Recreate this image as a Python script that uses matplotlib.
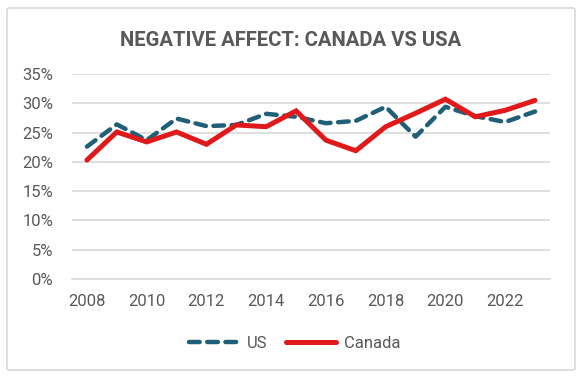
import matplotlib.pyplot as plt
from matplotlib.patches import FancyBboxPatch
from matplotlib.ticker import FuncFormatter

# %% data
years = list(range(2008, 2024))
us = [22.6, 26.4, 23.7, 27.4, 26.1, 26.3, 28.2, 27.7, 26.6, 27.0, 29.4, 24.3, 29.4, 27.8, 26.8, 28.6]
canada = [20.3, 25.1, 23.4, 25.1, 23.0, 26.3, 26.0, 28.7, 23.7, 21.9, 26.0, 28.3, 30.7, 27.7, 28.8, 30.5]
yticks = [0, 5, 10, 15, 20, 25, 30, 35]
xticks = list(range(2008, 2024, 2))

grey = '#595959'
plt.rcParams['font.family'] = ['Roboto', 'DejaVu Sans']

# %% plot
fig = plt.figure(figsize=(5.81, 3.78), dpi=100)
frame = FancyBboxPatch((7 / 581, 8 / 378), 568 / 581, 362 / 378,
                       boxstyle='round,pad=0,rounding_size=0.005',
                       transform=fig.transFigure, fc='white',
                       ec='#d9d9d9', lw=1.2, zorder=-10)
fig.patches.append(frame)

ax = fig.add_axes([72 / 581, 1 - 279 / 378, (550 - 72) / 581, (279 - 74) / 378])
ax.set_facecolor('none')

ax.plot(years, us, color='#1f5f78', lw=3.2, dashes=(2.4, 1.7),
        dash_capstyle='round', solid_capstyle='round', label='US', zorder=3)
ax.plot(years, canada, color='#e01a1a', lw=3.6, solid_capstyle='round',
        solid_joinstyle='miter', label='Canada', zorder=4)

ax.set_xlim(2007.5, 2023.5)
ax.set_ylim(0, 35)
ax.set_yticks(yticks)
ax.set_xticks(xticks)
ax.yaxis.set_major_formatter(FuncFormatter(lambda v, p: f'{v:.0f}%'))
ax.grid(axis='y', color='#d9d9d9', lw=1.2)
ax.set_axisbelow(True)
for s in ax.spines.values():
    s.set_visible(False)
ax.spines['bottom'].set_visible(True)
ax.spines['bottom'].set_color('#d9d9d9')
ax.spines['bottom'].set_linewidth(1.2)
ax.tick_params(length=0, labelsize=12, colors=grey)
ax.tick_params(axis='x', pad=11)
ax.tick_params(axis='y', pad=13.5)

fig.text(0.5, 1 - 40 / 378, 'NEGATIVE AFFECT: CANADA VS USA', ha='center', va='center',
         fontsize=14.6, fontweight='bold', color=grey)

leg = fig.legend(loc='center', bbox_to_anchor=(295 / 581, 1 - 343 / 378), ncol=2,
                 frameon=False, fontsize=12, handlelength=3.0, columnspacing=1.1,
                 handletextpad=0.48)
for t in leg.get_texts():
    t.set_color(grey)

fig.savefig('out.png', dpi=100)
